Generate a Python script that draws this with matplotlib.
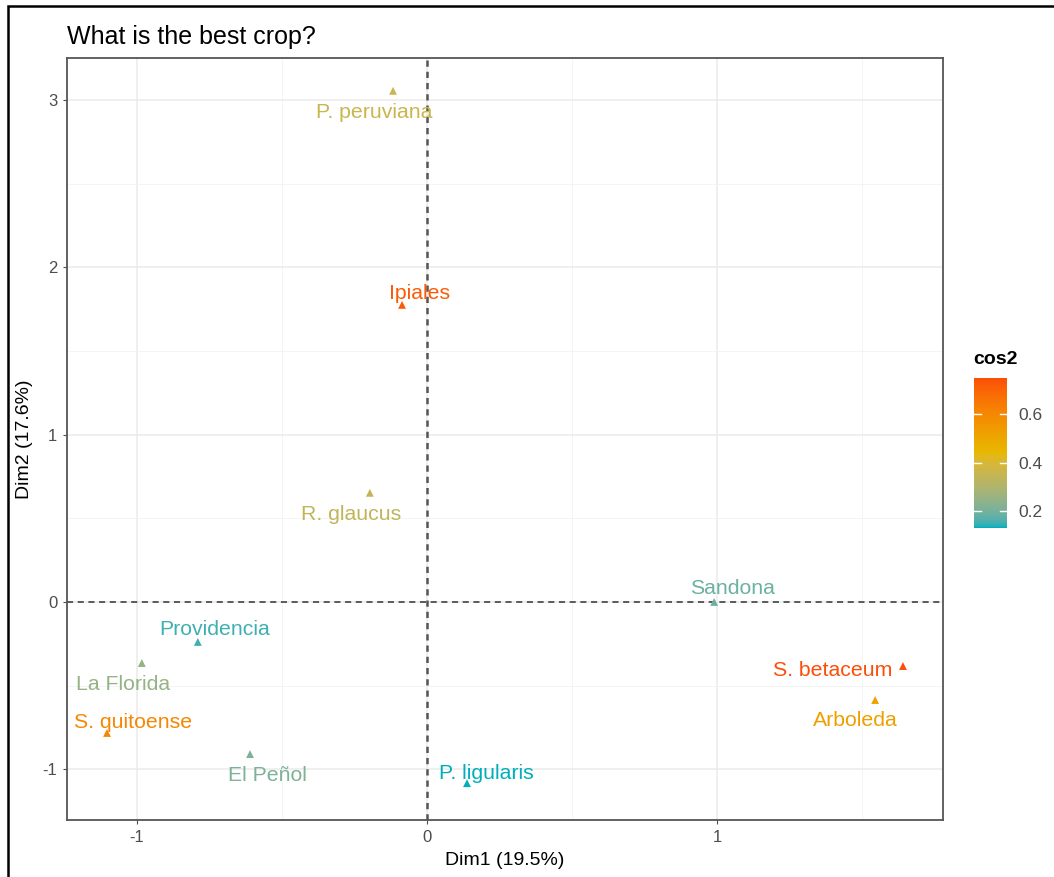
import numpy as np
import matplotlib.pyplot as plt
from matplotlib.colors import ListedColormap, Normalize, to_rgb
from matplotlib.patches import Rectangle

plt.rcParams['font.family'] = ['Liberation Sans', 'DejaVu Sans']
plt.rcParams['axes.unicode_minus'] = False

# dados
nomes = ['P. peruviana', 'Ipiales', 'R. glaucus', 'Sandona', 'S. betaceum', 'Arboleda',
         'Providencia', 'La Florida', 'S. quitoense', 'El Peñol', 'P. ligularis']
dim1 = np.array([-0.117, -0.086, -0.197, 0.990, 1.641, 1.545, -0.790, -0.983, -1.103, -0.610, 0.138])
dim2 = np.array([3.054, 1.775, 0.652, 0.000, -0.383, -0.586, -0.239, -0.365, -0.783, -0.909, -1.083])
cos2 = np.array([0.36, 0.72, 0.34, 0.19, 0.75, 0.52, 0.15, 0.25, 0.60, 0.21, 0.13])

# deslocamento dos rotulos (pixels)
desloc = [(-19, -22), (18, 11), (-19, -22), (18, 13), (-70, -4), (-20, -20),
          (17, 12), (-19, -21), (26, 10), (17, -21), (19, 10)]

cores_grad = ['#00AFBB', '#E7B800', '#FC4E07']


# interpolacao em Lab, como o ggplot
M = np.array([[0.4124, 0.3576, 0.1805], [0.2126, 0.7152, 0.0722], [0.0193, 0.1192, 0.9505]])
BRANCO = np.array([0.95047, 1.0, 1.08883])


def rgb_para_lab(c):
    c = np.array(c)
    lin = np.where(c <= 0.04045, c / 12.92, ((c + 0.055) / 1.055) ** 2.4)
    xyz = M @ lin / BRANCO
    f = np.where(xyz > 0.008856, np.cbrt(xyz), 7.787 * xyz + 16 / 116)
    return np.array([116 * f[1] - 16, 500 * (f[0] - f[1]), 200 * (f[1] - f[2])])


def lab_para_rgb(lab):
    fy = (lab[0] + 16) / 116
    fx = fy + lab[1] / 500
    fz = fy - lab[2] / 200
    f = np.array([fx, fy, fz])
    xyz = np.where(f ** 3 > 0.008856, f ** 3, (f - 16 / 116) / 7.787) * BRANCO
    lin = np.linalg.solve(M, xyz)
    lin = np.clip(lin, 0, 1)
    c = np.where(lin <= 0.0031308, 12.92 * lin, 1.055 * lin ** (1 / 2.4) - 0.055)
    return np.clip(c, 0, 1)


labs = [rgb_para_lab(to_rgb(c)) for c in cores_grad]
amostras = []
for t in np.linspace(0, 1, 256):
    if t <= 0.5:
        u = t / 0.5
        lab = labs[0] * (1 - u) + labs[1] * u
    else:
        u = (t - 0.5) / 0.5
        lab = labs[1] * (1 - u) + labs[2] * u
    amostras.append(lab_para_rgb(lab))
cmap = ListedColormap(amostras)
norm = Normalize(vmin=cos2.min(), vmax=cos2.max())

fig = plt.figure(figsize=(10.54, 8.77), dpi=100)
W, H = 1054, 877
ax = fig.add_axes([67 / W, 1 - 820 / H, (943 - 67) / W, (820 - 58) / H])

ax.set_xlim(-1.241, 1.779)
ax.set_ylim(-1.303, 3.25)

ax.set_xticks([-1, 0, 1])
ax.set_yticks([-1, 0, 1, 2, 3])
ax.set_xticks([-0.5, 0.5, 1.5], minor=True)
ax.set_yticks([-0.5, 0.5, 1.5, 2.5], minor=True)
ax.grid(True, which='major', color='#EBEBEB', linewidth=1.1)
ax.grid(True, which='minor', color='#F2F2F2', linewidth=0.6)
ax.set_axisbelow(True)
ax.tick_params(which='minor', length=0)
ax.tick_params(which='major', length=3, color='#4D4D4D', labelsize=12, labelcolor='#4D4D4D', pad=4)
for s in ax.spines.values():
    s.set_color('#555555')
    s.set_linewidth(1.3)

ax.axhline(0, color='#333333', linestyle=(0, (4, 3)), linewidth=1.1, zorder=1)
ax.axvline(0, color='#555555', linestyle=(0, (2.5, 2)), linewidth=1.8, zorder=1)

ax.scatter(dim1, dim2, c=cos2, cmap=cmap, norm=norm, marker='^', s=32, zorder=3, linewidths=0)

for i, nome in enumerate(nomes):
    ax.annotate(nome, (dim1[i], dim2[i]), xytext=desloc[i], textcoords='offset pixels',
                ha='center', va='center', fontsize=15.3, color=cmap(norm(cos2[i])), zorder=4)

ax.set_xlabel('Dim1 (19.5%)', fontsize=14, labelpad=5)
ax.set_ylabel('Dim2 (17.6%)', fontsize=14, labelpad=7)
fig.text(67 / W, 1 - 37 / H, 'What is the best crop?', fontsize=18, ha='left', va='center')

# barra de cores
cax = fig.add_axes([974 / W, 1 - 528 / H, 33 / W, 150 / H])
sm = plt.cm.ScalarMappable(cmap=cmap, norm=norm)
cb = fig.colorbar(sm, cax=cax, ticks=[0.2, 0.4, 0.6])
cb.outline.set_visible(False)
cb.ax.tick_params(length=0, labelsize=12.5, labelcolor='#4D4D4D', pad=8)
for t in [0.2, 0.4, 0.6]:
    cax.plot([0, 0.2], [t, t], color='white', linewidth=1, transform=cax.get_yaxis_transform())
    cax.plot([0.8, 1], [t, t], color='white', linewidth=1, transform=cax.get_yaxis_transform())
fig.text(973 / W, 1 - 360 / H, 'cos2', fontsize=14, fontweight='bold', ha='left', va='center')

# moldura preta
fig.patches.append(Rectangle((8 / W, -0.05), 1.1, 1 - 6 / H + 0.05, transform=fig.transFigure,
                             fill=False, edgecolor='black', linewidth=1.8))

plt.savefig('out.png', dpi=100)
